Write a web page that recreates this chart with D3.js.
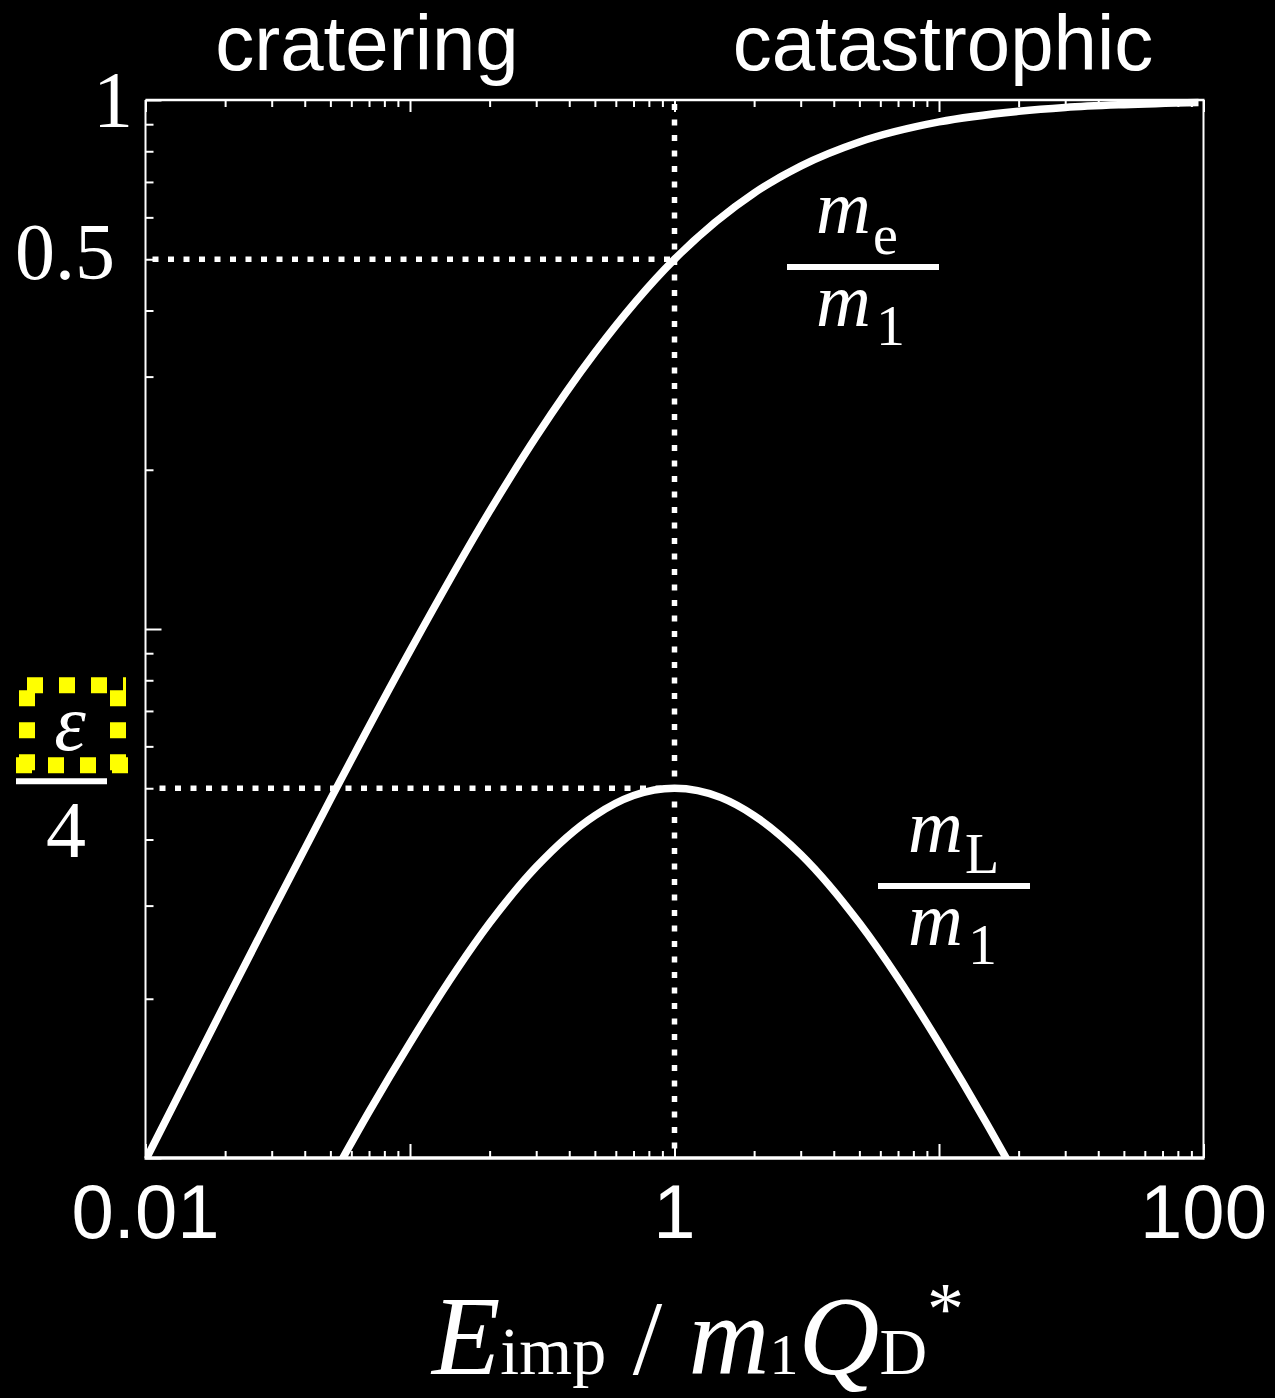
<!DOCTYPE html>
<html>
<head>
<meta charset="utf-8">
<script src="https://cdn.jsdelivr.net/npm/d3@7"></script>
<style>
  html, body { margin: 0; padding: 0; background: #000; }
  svg { display: block; }
</style>
</head>
<body>
<script>
// Normalised impact energy E_imp / (m1 Q_D*) at which each curve was sampled
const energyEjecta = [0.01, 0.02, 0.03, 0.05, 0.1, 0.2, 0.3, 0.5, 1, 2, 3, 5, 10, 20, 30, 50, 100];
// Ejected mass fraction m_e / m_1
const ejectaFraction = [0.0099, 0.0196, 0.0291, 0.0476, 0.0909, 0.167, 0.231, 0.333, 0.5, 0.667, 0.75, 0.833, 0.909, 0.952, 0.968, 0.980, 0.990];

const energyLargest = [0.05, 0.07, 0.1, 0.15, 0.2, 0.3, 0.5, 0.7, 1, 1.5, 2, 3, 5, 7, 10, 15, 20];
// Largest-fragment mass fraction m_L / m_1
const largestFraction = [0.00907, 0.01223, 0.0165, 0.02268, 0.0278, 0.0355, 0.0444, 0.04844, 0.05, 0.048, 0.0444, 0.0375, 0.0278, 0.02188, 0.0165, 0.01172, 0.00907];

// Reference levels
const thresholdEnergy = 1;     // E_imp = m1 Q_D*
const halfMass = 0.5;          // m_e / m_1 at threshold
const epsQuarter = 0.05;       // peak of m_L / m_1 (epsilon / 4)

// Axis labels
const xTickValues = [0.01, 1, 100];
const xTickText = ["0.01", "1", "100"];
const yTickValues = [1, 0.5];
const yTickText = ["1", "0.5"];
const regimeNames = ["cratering", "catastrophic"];

const W = 1275, H = 1398;
const plotLeft = 145.5, plotRight = 1203.5, plotTop = 100, plotBottom = 1158;

const svg = d3.select("body").append("svg")
  .attr("width", W).attr("height", H)
  .style("background", "#000");

const x = d3.scaleLog().domain([0.01, 100]).range([plotLeft, plotRight]);
const y = d3.scaleLog().domain([0.01, 1]).range([plotBottom, plotTop]);

const isDecade = v => Math.abs(Math.log10(v) - Math.round(Math.log10(v))) < 1e-9;
const xMinor = x.ticks().filter(v => !isDecade(v));
const xMajor = x.ticks().filter(v => isDecade(v));
const yMinor = y.ticks().filter(v => !isDecade(v));
const yMajor = y.ticks().filter(v => isDecade(v));

function styleAxis(g) {
  g.select(".domain").remove();
  g.selectAll(".tick line").attr("stroke", "#fff").attr("stroke-width", 2);
}

// tick marks: bottom (pointing up), top (pointing down), left (pointing right)
svg.append("g").attr("transform", `translate(0,${plotBottom})`)
  .call(d3.axisBottom(x).tickValues(xMinor).tickSize(-7).tickFormat("")).call(styleAxis);
svg.append("g").attr("transform", `translate(0,${plotBottom})`)
  .call(d3.axisBottom(x).tickValues(xMajor).tickSize(-14).tickFormat("")).call(styleAxis);
svg.append("g").attr("transform", `translate(0,${plotTop})`)
  .call(d3.axisTop(x).tickValues(xMinor).tickSize(-7).tickFormat("")).call(styleAxis);
svg.append("g").attr("transform", `translate(0,${plotTop})`)
  .call(d3.axisTop(x).tickValues(xMajor).tickSize(-12).tickFormat("")).call(styleAxis);
svg.append("g").attr("transform", `translate(${plotLeft},0)`)
  .call(d3.axisLeft(y).tickValues(yMinor).tickSize(-8).tickFormat("")).call(styleAxis);
svg.append("g").attr("transform", `translate(${plotLeft},0)`)
  .call(d3.axisLeft(y).tickValues(yMajor).tickSize(-16).tickFormat("")).call(styleAxis);

// dotted guide lines
const guide = svg.append("g")
  .attr("stroke", "#fff").attr("stroke-width", 5.5)
  .attr("stroke-dasharray", "6,9.5").attr("fill", "none");
guide.append("line")
  .attr("x1", x(0.01) + 7).attr("x2", x(thresholdEnergy))
  .attr("y1", y(halfMass)).attr("y2", y(halfMass));
guide.append("line")
  .attr("x1", x(0.01) + 14).attr("x2", x(thresholdEnergy))
  .attr("y1", y(epsQuarter)).attr("y2", y(epsQuarter));
guide.append("line")
  .attr("x1", x(thresholdEnergy)).attr("x2", x(thresholdEnergy))
  .attr("y1", y(1) + 4).attr("y2", y(0.01));

// curves, clipped to the plotting box
svg.append("clipPath").attr("id", "plotArea")
  .append("rect").attr("x", plotLeft).attr("y", plotTop - 10)
  .attr("width", plotRight - plotLeft - 5).attr("height", plotBottom - plotTop + 10);

const line = d3.line().x(d => x(d[0])).y(d => y(d[1])).curve(d3.curveMonotoneX);
const curves = svg.append("g").attr("clip-path", "url(#plotArea)")
  .attr("fill", "none").attr("stroke", "#fff").attr("stroke-width", 7.5);
curves.append("path").attr("d", line(d3.zip(energyEjecta, ejectaFraction)));
curves.append("path").attr("d", line(d3.zip(energyLargest, largestFraction)));

// frame
const frame = svg.append("g").attr("stroke", "#fff").attr("fill", "none");
frame.append("line").attr("x1", plotLeft).attr("x2", plotLeft).attr("y1", plotTop).attr("y2", plotBottom).attr("stroke-width", 2);
frame.append("line").attr("x1", plotRight).attr("x2", plotRight).attr("y1", plotTop).attr("y2", plotBottom).attr("stroke-width", 2);
frame.append("line").attr("x1", plotLeft).attr("x2", plotRight + 1).attr("y1", plotTop).attr("y2", plotTop).attr("stroke-width", 2.5);
frame.append("line").attr("x1", plotLeft - 1).attr("x2", plotRight + 1).attr("y1", plotBottom).attr("y2", plotBottom).attr("stroke-width", 3.5);

const sans = "'Liberation Sans', Arial, Helvetica, sans-serif";
const serif = "'Liberation Serif', 'Times New Roman', Times, serif";

// x tick labels
svg.append("g").selectAll("text").data(xTickValues).join("text")
  .attr("x", d => x(d)).attr("y", 1238)
  .attr("text-anchor", "middle")
  .attr("font-family", sans).attr("font-size", 76).attr("fill", "#fff")
  .text((d, i) => xTickText[i]);

// y tick labels
const yLabelX = [113, 65];
const yLabelDy = [27, 20];
svg.append("g").selectAll("text").data(yTickValues).join("text")
  .attr("x", (d, i) => yLabelX[i]).attr("y", (d, i) => y(d) + yLabelDy[i])
  .attr("text-anchor", "middle")
  .attr("font-family", serif).attr("font-size", 80).attr("fill", "#fff")
  .text((d, i) => yTickText[i]);

// epsilon / 4 label
const epsY = y(epsQuarter);
const box = svg.append("g").attr("stroke", "#ffff00").attr("stroke-width", 16)
  .attr("stroke-dasharray", "16,16").attr("fill", "none");
box.append("line").attr("x1", 19).attr("x2", 126).attr("y1", epsY - 103).attr("y2", epsY - 103).attr("stroke-dashoffset", 24);
box.append("line").attr("x1", 27).attr("x2", 27).attr("y1", epsY - 98).attr("y2", epsY - 15);
box.append("line").attr("x1", 118).attr("x2", 118).attr("y1", epsY - 98).attr("y2", epsY - 15);
box.append("line").attr("x1", 16).attr("x2", 128).attr("y1", epsY - 23).attr("y2", epsY - 23);

svg.append("text").attr("x", 70).attr("y", epsY - 38)
  .attr("text-anchor", "middle").attr("font-family", serif).attr("font-style", "italic")
  .attr("font-size", 80).attr("fill", "#fff").text("ε");
svg.append("line").attr("x1", 16).attr("x2", 107).attr("y1", epsY - 7).attr("y2", epsY - 7)
  .attr("stroke", "#fff").attr("stroke-width", 6);
svg.append("text").attr("x", 66).attr("y", epsY + 69)
  .attr("text-anchor", "middle").attr("font-family", serif)
  .attr("font-size", 80).attr("fill", "#fff").text("4");

// regime labels above the frame
const regimeX = [367, 943];
svg.append("g").selectAll("text").data(regimeNames).join("text")
  .attr("x", (d, i) => regimeX[i]).attr("y", 70)
  .attr("text-anchor", "middle").attr("font-family", sans)
  .attr("font-size", 78).attr("fill", "#fff").text(d => d);

// fraction labels on the curves
function fractionLabel(xStart, barX1, barX2, barY, sub) {
  const g = svg.append("g").attr("font-family", serif).attr("fill", "#fff");
  const num = g.append("text").attr("x", xStart).attr("y", barY - 34);
  num.append("tspan").attr("font-style", "italic").attr("font-size", 76).text("m");
  num.append("tspan").attr("font-size", 56).attr("dy", 21).attr("dx", 2).text(sub);
  const den = g.append("text").attr("x", xStart).attr("y", barY + 59);
  den.append("tspan").attr("font-style", "italic").attr("font-size", 76).text("m");
  den.append("tspan").attr("font-size", 58).attr("dy", 19).attr("dx", 5).text("1");
  g.append("line").attr("x1", barX1).attr("x2", barX2).attr("y1", barY).attr("y2", barY)
    .attr("stroke", "#fff").attr("stroke-width", 6);
}
fractionLabel(816, 787, 939, 267, "e");
fractionLabel(908, 878, 1030, 886, "L");

// x-axis title
const title = svg.append("text").attr("x", 698).attr("y", 1374)
  .attr("text-anchor", "middle").attr("font-family", serif).attr("fill", "#fff");
title.append("tspan").attr("font-style", "italic").attr("font-size", 112).text("E");
title.append("tspan").attr("font-size", 68).text("imp");
title.append("tspan").attr("font-size", 106).text(" / ");
title.append("tspan").attr("font-style", "italic").attr("font-size", 112).text("m");
title.append("tspan").attr("font-size", 58).text("1");
title.append("tspan").attr("font-style", "italic").attr("font-size", 112).text("Q");
title.append("tspan").attr("font-size", 66).text("D");
title.append("tspan").attr("font-size", 74).attr("dy", -40).text("*");
</script>
</body>
</html>
